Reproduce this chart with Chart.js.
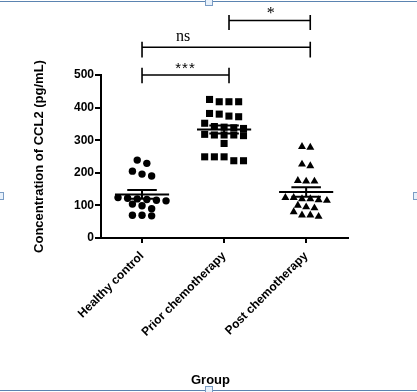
<!DOCTYPE html>
<html>
<head>
<meta charset="utf-8">
<script src="https://cdn.jsdelivr.net/npm/chart.js@4.4.1/dist/chart.umd.min.js"></script>
<style>
html,body{margin:0;padding:0;background:#fff;}
#wrap{position:relative;width:417px;height:392px;overflow:hidden;}
#c{position:absolute;left:0;top:0;}
.hl{position:absolute;left:0;width:417px;height:1px;background:#5b84b1;}
.hd{position:absolute;width:6px;height:6px;border:1px solid #7a9cc4;background:#e8f1fb;}
</style>
</head>
<body>
<div id="wrap">
<canvas id="c" width="417" height="392"></canvas>
<div class="hl" style="top:1px"></div>
<div class="hl" style="top:390px"></div>
<div class="hd" style="left:205px;top:-2px"></div>
<div class="hd" style="left:205px;top:386px"></div>
<div class="hd" style="left:-4px;top:192px"></div>
<div class="hd" style="left:413px;top:192px"></div>
</div>
<script>
// ---- data ----
const categories = ['Healthy control', 'Prior chemotherapy', 'Post chemotherapy'];
const healthy = [239, 229, 205, 196, 190, 124, 122, 120, 118, 116, 114, 104, 99, 90, 70, 68, 70];
const prior = [425, 418, 418, 418, 382, 374, 372, 380, 352, 342, 340, 338, 336, 318, 316, 316, 316, 314, 290, 249, 249, 249, 237, 237];
const post = [280, 278, 226, 221, 176, 174, 174, 124, 124, 120, 120, 117, 115, 100, 95, 92, 80, 70, 70, 66];
const yTicks = [0, 100, 200, 300, 400, 500];
const sigLabels = ['***', 'ns', '*'];
const xTitle = 'Group';
const yTitle = 'Concentration of CCL2 (pg/mL)';

// ---- helpers ----
const PX_PER_X = 82;
// GraphPad-like scatter: values closer than rowH share a row, spread evenly around the centre
function rows(values, center, rowH, spacingPx) {
  const order = values.map((v, i) => i).sort((a, b) => values[b] - values[a]);
  const groups = [];
  let cur = null;
  for (const i of order) {
    if (!cur || cur.top - values[i] >= rowH) { cur = { top: values[i], idx: [] }; groups.push(cur); }
    cur.idx.push(i);
  }
  const out = new Array(values.length);
  for (const g of groups) {
    const n = g.idx.length;
    g.idx.forEach((i, k) => {
      out[i] = { x: center + (k - (n - 1) / 2) * spacingPx / PX_PER_X, y: values[i] };
    });
  }
  return out;
}
function stats(v) {
  const n = v.length, m = v.reduce((a, b) => a + b, 0) / n;
  const sd = Math.sqrt(v.reduce((a, b) => a + (b - m) * (b - m), 0) / (n - 1));
  return { m, s: sd / Math.sqrt(n) };
}
function summaryLines(groups) {
  const pts = [];
  groups.forEach((g, idx) => {
    const c = idx + 1, { m, s } = stats(g);
    pts.push({ x: c - 0.33, y: m }, { x: c + 0.33, y: m }, { x: c, y: null });
    pts.push({ x: c, y: m - s }, { x: c, y: m + s }, { x: c, y: null });
    pts.push({ x: c - 0.18, y: m + s }, { x: c + 0.18, y: m + s }, { x: c, y: null });
    pts.push({ x: c - 0.18, y: m - s }, { x: c + 0.18, y: m - s }, { x: c, y: null });
  });
  return pts;
}
const brackets = [
  { from: 1, to: 2.06, y: 500, lo: 475, hi: 522, label: sigLabels[0], tx: 1.53, gap: 2, font: '15px "Liberation Sans"', ls: '1px' },
  { from: 1, to: 3.05, y: 585, lo: 554, hi: 602, label: sigLabels[1], tx: 1.5, gap: 6, font: '16px "Liberation Serif"', ls: '0px' },
  { from: 2.06, to: 3.05, y: 667, lo: 638, hi: 684, label: sigLabels[2], tx: 2.57, gap: 3, font: '16px "Liberation Serif"', ls: '0px' }
];
function bracketLines() {
  const pts = [];
  for (const b of brackets) {
    pts.push({ x: b.from, y: b.lo }, { x: b.from, y: b.hi }, { x: b.from, y: null });
    pts.push({ x: b.from, y: b.y }, { x: b.to, y: b.y }, { x: b.from, y: null });
    pts.push({ x: b.to, y: b.lo }, { x: b.to, y: b.hi }, { x: b.to, y: null });
  }
  return pts;
}
const sigText = {
  id: 'sigText',
  afterDatasetsDraw(chart) {
    const { ctx, scales: { x, y }, chartArea } = chart;
    ctx.save();
    ctx.fillStyle = '#000';
    ctx.textAlign = 'center';
    ctx.textBaseline = 'alphabetic';
    for (const b of brackets) {
      ctx.font = b.font;
      ctx.letterSpacing = b.ls;
      ctx.fillText(b.label, x.getPixelForValue(b.tx), y.getPixelForValue(b.y) - b.gap);
    }
    ctx.letterSpacing = '0px';
    ctx.font = 'bold 13px "Liberation Sans"';
    ctx.textBaseline = 'middle';
    ctx.fillText(xTitle, (chartArea.left + chartArea.right) / 2 - 14, chart.height - 12);
    ctx.restore();
  }
};

const tickFont = { family: 'Liberation Sans', size: 12, weight: 'bold' };
new Chart(document.getElementById('c'), {
  type: 'scatter',
  data: {
    datasets: [
      { data: rows(healthy, 1, 20, 9.6), pointStyle: 'circle', radius: 3.7, backgroundColor: '#000', borderWidth: 0 },
      { data: rows(prior, 2, 20, 9.7), pointStyle: 'rect', radius: 5, backgroundColor: '#000', borderWidth: 0 },
      { data: rows(post, 3, 20, 8.3), pointStyle: 'triangle', radius: 4.6, backgroundColor: '#000', borderWidth: 0 },
      { data: summaryLines([healthy, prior, post]), showLine: true, spanGaps: false, borderColor: '#000', borderWidth: 2, pointRadius: 0 },
      { data: bracketLines(), showLine: true, spanGaps: false, borderColor: '#000', borderWidth: 1.6, pointRadius: 0, clip: false }
    ]
  },
  options: {
    responsive: false,
    animation: false,
    events: [],
    layout: { padding: { left: 0, right: 69, top: 75, bottom: 0 } },
    plugins: { legend: { display: false }, tooltip: { enabled: false } },
    scales: {
      x: {
        type: 'linear', min: 0.5, max: 3.51,
        afterBuildTicks: s => { s.ticks = [1, 2, 3].map(v => ({ value: v })); },
        afterFit: s => { s.height = 154; },
        grid: { drawOnChartArea: false, drawTicks: true, tickLength: 5, color: '#000', lineWidth: 2 },
        border: { display: true, color: '#000', width: 2 },
        ticks: { autoSkip: false, minRotation: 45, maxRotation: 45, padding: 6, color: '#000', font: tickFont,
                 callback: v => categories[Math.round(v) - 1] },
        title: { display: false }
      },
      y: {
        min: 0, max: 500,
        afterBuildTicks: s => { s.ticks = yTicks.map(v => ({ value: v })); },
        afterFit: s => { s.width = 101; },
        grid: { drawOnChartArea: false, drawTicks: true, tickLength: 6, color: '#000', lineWidth: 2 },
        border: { display: true, color: '#000', width: 2 },
        ticks: { padding: 1, color: '#000', font: tickFont },
        title: { display: true, text: yTitle, color: '#000', padding: { top: 32, bottom: 0 },
                 font: { family: 'Liberation Sans', size: 13, weight: 'bold' } }
      }
    }
  },
  plugins: [sigText]
});
</script>
</body>
</html>
